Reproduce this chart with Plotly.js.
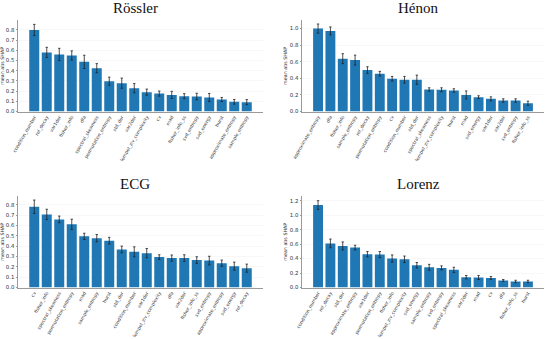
<!DOCTYPE html>
<html>
<head>
<meta charset="utf-8">
<script src="https://cdn.plot.ly/plotly-3.0.1.min.js"></script>
<style>html,body{margin:0;padding:0;background:#fff;}#chart{width:550px;height:339px;}</style>
</head>
<body>
<div id="chart"></div>
<script>
// ---- Data ----
const titles = ["Rössler", "Hénon", "ECG", "Lorenz"];

const rosslerFeatures = ["condition_number","rel_decay","var1der","fisher_info","dfa","spectral_skewness","permutation_entropy","std_der","var2der","lempel_ziv_complexity","cv","mad","fisher_info_ss","svd_entropy","svd_energy","hurst","approximate_entropy","sample_entropy"];
const rosslerValues = [0.80,0.58,0.56,0.55,0.487,0.425,0.297,0.278,0.229,0.19,0.176,0.163,0.15,0.147,0.137,0.118,0.095,0.092];
const rosslerErrors = [0.055,0.05,0.06,0.045,0.065,0.045,0.04,0.05,0.045,0.03,0.025,0.035,0.025,0.032,0.04,0.02,0.023,0.025];

const henonFeatures = ["approximate_entropy","dfa","fisher_info","sample_entropy","rel_decay","permutation_entropy","cv","condition_number","std_der","spectral_skewness","lempel_ziv_complexity","hurst","mad","svd_energy","var1der","var2der","svd_entropy","fisher_info_ss"];
const henonValues = [1.0,0.972,0.637,0.62,0.5,0.456,0.395,0.383,0.383,0.266,0.262,0.254,0.2,0.173,0.153,0.133,0.133,0.1];
const henonErrors = [0.055,0.048,0.06,0.06,0.04,0.028,0.028,0.04,0.056,0.02,0.024,0.02,0.048,0.017,0.024,0.02,0.02,0.025];

const ecgFeatures = ["cv","fisher_info","spectral_skewness","permutation_entropy","mad","sample_entropy","hurst","std_der","condition_number","var1der","lempel_ziv_complexity","dfa","var2der","fisher_info_ss","svd_entropy","approximate_entropy","svd_energy","rel_decay"];
const ecgValues = [0.78,0.706,0.658,0.61,0.494,0.477,0.452,0.368,0.345,0.332,0.294,0.284,0.284,0.265,0.26,0.235,0.206,0.187];
const ecgErrors = [0.065,0.05,0.032,0.05,0.03,0.035,0.032,0.032,0.048,0.045,0.022,0.03,0.032,0.032,0.042,0.03,0.039,0.039];

const lorenzFeatures = ["condition_number","rel_decay","std_der","approximate_entropy","var1der","permutation_entropy","fisher_info","lempel_ziv_complexity","svd_energy","sample_entropy","svd_entropy","spectral_skewness","var2der","mad","cv","dfa","fisher_info_ss","hurst"];
const lorenzValues = [1.14,0.61,0.575,0.552,0.46,0.455,0.4,0.39,0.308,0.28,0.271,0.244,0.143,0.138,0.133,0.097,0.083,0.083];
const lorenzErrors = [0.06,0.06,0.055,0.032,0.037,0.042,0.05,0.045,0.037,0.04,0.028,0.036,0.023,0.028,0.019,0.013,0.017,0.017];

const yTitle = "mean abs SHAP";

// ---- Build ----
const sets = [
  [rosslerFeatures, rosslerValues, rosslerErrors],
  [henonFeatures, henonValues, henonErrors],
  [ecgFeatures, ecgValues, ecgErrors],
  [lorenzFeatures, lorenzValues, lorenzErrors]
];
const barColor = "#1f77b4";
const traces = sets.map((s, i) => ({
  type: "bar",
  x: s[0], y: s[1],
  xaxis: i === 0 ? "x" : "x" + (i + 1),
  yaxis: i === 0 ? "y" : "y" + (i + 1),
  marker: {color: barColor},
  error_y: {type: "data", array: s[2], visible: true, color: "#222", thickness: 0.8, width: 1.2},
  hoverinfo: "x+y"
}));

const W = 550, H = 339;
const xDomL = [18 / W, 263 / W], xDomR = [302 / W, 544 / W];
const yDomT = [1 - 111.5 / H, 1 - 20.3 / H], yDomB = [1 - 287.5 / H, 1 - 196 / H];
const yRanges = [[0, 0.895], [0, 1.10], [0, 0.884], [0, 1.265]];
const yDtick = [0.1, 0.2, 0.1, 0.2];

function xAxis(dom, anchor) {
  return {
    domain: dom, anchor: anchor, type: "category",
    range: [-1.3, 18.3], autorange: false,
    showline: true, linecolor: "#9a9a9a", linewidth: 1,
    showgrid: false, zeroline: false,
    ticks: "", tickangle: -60,
    tickfont: {family: "DejaVu Sans", size: 4.6, color: "#444"},
    fixedrange: true
  };
}
function yAxis(dom, anchor, i) {
  return {
    domain: dom, anchor: anchor,
    range: yRanges[i], autorange: false,
    dtick: yDtick[i], tick0: 0, tickformat: ".1f",
    showline: true, linecolor: "#9a9a9a", linewidth: 1,
    showgrid: true, gridcolor: "#f1f1f1", gridwidth: 0.6,
    zeroline: false, ticks: "outside", ticklen: 1.5, tickcolor: "#9a9a9a",
    tickfont: {family: "DejaVu Sans", size: 5.4, color: "#333"},
    title: {text: yTitle, standoff: 2, font: {family: "DejaVu Sans", size: 4.8, color: "#333"}},
    automargin: false,
    fixedrange: true
  };
}

const layout = {
  width: W, height: H,
  margin: {l: 0, r: 0, t: 0, b: 0},
  paper_bgcolor: "#fff", plot_bgcolor: "#fff",
  showlegend: false, bargap: 0.2,
  font: {family: "DejaVu Sans", color: "#333"},
  xaxis: xAxis(xDomL, "y"),
  yaxis: yAxis(yDomT, "x", 0),
  xaxis2: xAxis(xDomR, "y2"),
  yaxis2: yAxis(yDomT, "x2", 1),
  xaxis3: xAxis(xDomL, "y3"),
  yaxis3: yAxis(yDomB, "x3", 2),
  xaxis4: xAxis(xDomR, "y4"),
  yaxis4: yAxis(yDomB, "x4", 3),
  annotations: []
};

const titlePos = [[135, 8.5], [418, 8.5], [135, 184], [418, 184]];
titles.forEach((t, i) => {
  layout.annotations.push({
    text: t, xref: "paper", yref: "paper",
    x: titlePos[i][0] / W, y: 1 - titlePos[i][1] / H,
    xanchor: "center", yanchor: "middle", showarrow: false,
    font: {family: "Liberation Serif", size: 15, color: "#111"}
  });
});

Plotly.newPlot("chart", traces, layout, {displayModeBar: false, staticPlot: true});
</script>
</body>
</html>
